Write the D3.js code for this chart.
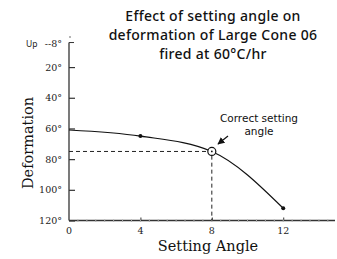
<!DOCTYPE html>
<html>
<head>
<meta charset="utf-8">
<script src="https://cdn.jsdelivr.net/npm/d3@7"></script>
<style>
  body { margin: 0; background: #fff; }
  svg { display: block; }
</style>
</head>
<body>
<div id="chart"></div>
<script>
// data
const angles = [0, 4, 8, 12];
const deformation = [61, 65, 75, 112];
const markedAngles = [4, 12];
const correctAngle = 8;
const correctDeformation = 75;
const xTicks = [0, 4, 8, 12];
const yTicks = [20, 40, 60, 80, 100, 120];
const titleLines = ["Effect of setting angle on", "deformation of Large Cone 06", "fired at 60°C/hr"];

const width = 337, height = 259;
const serif = "'DejaVu Serif', 'Liberation Serif', serif";
const sans = "'Noto Sans', 'DejaVu Sans', sans-serif";

const svg = d3.select("#chart").append("svg")
    .attr("width", width)
    .attr("height", height);

const x = d3.scaleLinear().domain([0, 14.9]).range([69, 335]);
const y = d3.scaleLinear().domain([0, 120]).range([36.4, 220.5]);

// title
svg.append("text")
    .attr("font-family", sans)
    .attr("font-size", 14)
    .attr("font-weight", 500)
    .attr("letter-spacing", 0.3)
    .attr("fill", "#111")
    .attr("text-anchor", "middle")
    .selectAll("tspan")
    .data(titleLines)
    .enter().append("tspan")
    .attr("x", 213)
    .attr("y", (d, i) => 21 + i * 19)
    .text(d => d);

// y axis (ticks inside)
const yAxis = svg.append("g")
    .attr("transform", `translate(${x(0)},0)`)
    .call(d3.axisRight(y).tickValues(yTicks).tickSize(6).tickFormat(""));
yAxis.select(".domain").attr("d", `M0,${y(4)}V${y(120)}`).attr("stroke", "#333").attr("stroke-width", 1.3);
yAxis.selectAll(".tick line").attr("stroke", "#333").attr("stroke-width", 1.2);

svg.selectAll(".ylab")
    .data(yTicks)
    .enter().append("text")
    .attr("class", "ylab")
    .attr("x", 62)
    .attr("y", d => y(d) + 3.5)
    .attr("text-anchor", "end")
    .attr("font-family", serif)
    .attr("font-size", 9.5)
    .attr("fill", "#222")
    .text(d => d + "°");

// top label "Up --8°"
svg.append("line")
    .attr("x1", x(0)).attr("x2", x(0) + 5)
    .attr("y1", y(4)).attr("y2", y(4))
    .attr("stroke", "#333").attr("stroke-width", 1);
svg.append("text")
    .attr("x", 26).attr("y", 47)
    .attr("font-family", sans).attr("font-size", 8.5).attr("fill", "#222")
    .text("Up");
svg.append("text")
    .attr("x", 62).attr("y", 47)
    .attr("text-anchor", "end")
    .attr("font-family", serif).attr("font-size", 9.5).attr("fill", "#222")
    .text("--8°");
svg.append("circle")
    .attr("cx", 70).attr("cy", 37).attr("r", 0.7).attr("fill", "#333");

// x axis
const xAxis = svg.append("g")
    .attr("transform", `translate(0,${y(120)})`)
    .call(d3.axisTop(x).tickValues(xTicks.slice(1)).tickSize(3).tickFormat(""));
xAxis.select(".domain").attr("d", `M${x(0)},0H${x(14.9)}`).attr("stroke", "#333").attr("stroke-width", 1.3);
xAxis.selectAll(".tick line").attr("stroke", "#333");

// faint minor ticks along x axis
svg.append("g")
    .selectAll("line")
    .data(d3.range(0.5, 14.9, 0.5))
    .enter().append("line")
    .attr("x1", d => x(d)).attr("x2", d => x(d))
    .attr("y1", y(120) - 1).attr("y2", y(120) + 1.5)
    .attr("stroke", "#aaa").attr("stroke-width", 1);

svg.selectAll(".xlab")
    .data(xTicks)
    .enter().append("text")
    .attr("class", "xlab")
    .attr("x", d => x(d))
    .attr("y", 234)
    .attr("text-anchor", "middle")
    .attr("font-family", serif)
    .attr("font-size", 9.5)
    .attr("fill", "#222")
    .text(d => d);

// axis titles
svg.append("text")
    .attr("x", 208).attr("y", 251)
    .attr("text-anchor", "middle")
    .attr("font-family", serif).attr("font-size", 14.5).attr("fill", "#111")
    .text("Setting Angle");
svg.append("text")
    .attr("transform", `translate(33,143) rotate(-90)`)
    .attr("text-anchor", "middle")
    .attr("font-family", serif).attr("font-size", 14.5).attr("fill", "#111")
    .text("Deformation");

// dashed guides to the correct setting angle
svg.append("path")
    .attr("d", `M${x(0)},${y(correctDeformation)}H${x(correctAngle)}V${y(120)}`)
    .attr("fill", "none")
    .attr("stroke", "#222")
    .attr("stroke-width", 1)
    .attr("stroke-dasharray", "4,3");

// curve
const line = d3.line()
    .x((d, i) => x(angles[i]))
    .y(d => y(d))
    .curve(d3.curveMonotoneX);
svg.append("path")
    .datum(deformation)
    .attr("d", line)
    .attr("fill", "none")
    .attr("stroke", "#111")
    .attr("stroke-width", 1.2);

// markers
svg.selectAll(".dot")
    .data(markedAngles)
    .enter().append("circle")
    .attr("class", "dot")
    .attr("cx", d => x(d))
    .attr("cy", d => y(deformation[angles.indexOf(d)]))
    .attr("r", 2)
    .attr("fill", "#111");

svg.append("circle")
    .attr("cx", x(correctAngle)).attr("cy", y(correctDeformation))
    .attr("r", 4).attr("fill", "#fff").attr("stroke", "#111").attr("stroke-width", 1.2);
svg.append("circle")
    .attr("cx", x(correctAngle)).attr("cy", y(correctDeformation))
    .attr("r", 0.9).attr("fill", "#111");

// annotation
svg.append("defs").append("marker")
    .attr("id", "arr")
    .attr("viewBox", "0 0 10 10")
    .attr("refX", 9).attr("refY", 5)
    .attr("markerWidth", 6).attr("markerHeight", 6)
    .attr("orient", "auto")
    .append("path")
    .attr("d", "M0,0L10,5L0,10Z")
    .attr("fill", "#111");
svg.append("line")
    .attr("x1", 228).attr("y1", 136)
    .attr("x2", 218).attr("y2", 144)
    .attr("stroke", "#111").attr("stroke-width", 1.2)
    .attr("marker-end", "url(#arr)");

svg.append("text")
    .attr("font-family", "'DejaVu Sans', sans-serif")
    .attr("font-size", 10.5)
    .attr("fill", "#111")
    .attr("text-anchor", "middle")
    .selectAll("tspan")
    .data(["Correct setting", "angle"])
    .enter().append("tspan")
    .attr("x", 259)
    .attr("y", (d, i) => 122 + i * 12.5)
    .text(d => d);
</script>
</body>
</html>
